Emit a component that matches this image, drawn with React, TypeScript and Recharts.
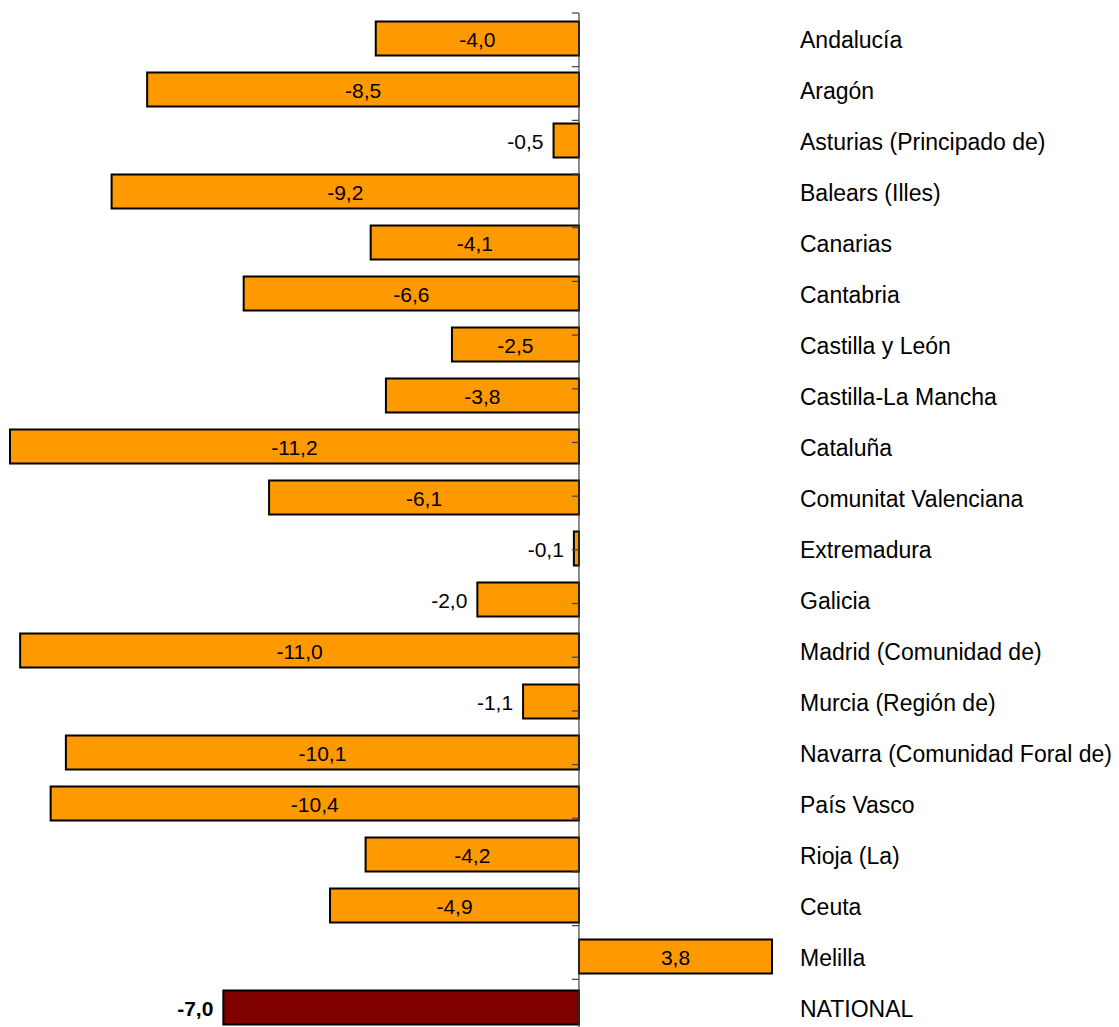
import { Bar, BarChart, Cell, LabelList, ReferenceLine, XAxis, YAxis } from 'recharts'

const regiones = [
  'Andalucía',
  'Aragón',
  'Asturias (Principado de)',
  'Balears (Illes)',
  'Canarias',
  'Cantabria',
  'Castilla y León',
  'Castilla-La Mancha',
  'Cataluña',
  'Comunitat Valenciana',
  'Extremadura',
  'Galicia',
  'Madrid (Comunidad de)',
  'Murcia (Región de)',
  'Navarra (Comunidad Foral de)',
  'País Vasco',
  'Rioja (La)',
  'Ceuta',
  'Melilla',
  'NATIONAL',
]

const variacion = [
  -4.0, -8.5, -0.5, -9.2, -4.1, -6.6, -2.5, -3.8, -11.2, -6.1, -0.1, -2.0, -11.0, -1.1, -10.1,
  -10.4, -4.2, -4.9, 3.8, -7.0,
]

// bordes entre categorías, donde van las marquitas del eje
const bordes = Array.from({ length: regiones.length + 1 }, (_, i) => i)

const data = regiones.map((region, i) => ({ region, valor: variacion[i] }))

const FONT = '"Liberation Sans", Arial, sans-serif'

const fmt = (v: number) => v.toFixed(1).replace('.', ',')

function ValorLabel(props: any) {
  const { x, y, width, height, value, index } = props
  const left = Math.min(x, x + width)
  const w = Math.abs(width)
  const cy = y + height / 2
  const nacional = regiones[index] === 'NATIONAL'
  const dentro = !nacional && Math.abs(value) >= 2.5
  return (
    <text
      x={dentro ? left + w / 2 : left - 10}
      y={cy + 1}
      textAnchor={dentro ? 'middle' : 'end'}
      dominantBaseline="central"
      fontSize={21}
      fontFamily={FONT}
      fontWeight={nacional ? 'bold' : 'normal'}
      fill="#000"
    >
      {fmt(value)}
    </text>
  )
}

function RegionTick(props: any) {
  const { x, y, payload } = props
  return (
    <text
      x={x + 28}
      y={y + 1}
      textAnchor="start"
      dominantBaseline="central"
      fontSize={23}
      fontFamily={FONT}
      fill="#000"
    >
      {payload.value}
    </text>
  )
}

export default function App() {
  return (
    <div
      style={{
        position: 'absolute',
        left: 0,
        top: 0,
        width: 1119,
        height: 1027,
        overflow: 'hidden',
        background: '#fff',
      }}
    >
      <BarChart
        width={1119}
        height={1033}
        data={data}
        layout="vertical"
        margin={{ top: 13, right: 0, bottom: 0, left: 10 }}
        barCategoryGap="16.6%"
      >
        <XAxis type="number" domain={[-11.2, 3.8]} hide />
        <YAxis
          yAxisId="cat"
          type="category"
          dataKey="region"
          orientation="right"
          width={347}
          axisLine={false}
          tickLine={false}
          tickSize={0}
          tickMargin={0}
          interval={0}
          tick={<RegionTick />}
        />
        <YAxis yAxisId="b" type="number" domain={[0, regiones.length]} reversed hide />
        <Bar
          yAxisId="cat"
          dataKey="valor"
          stroke="#000"
          strokeWidth={2}
          isAnimationActive={false}
        >
          {data.map((d) => (
            <Cell key={d.region} fill={d.region === 'NATIONAL' ? '#800000' : '#FF9900'} />
          ))}
          <LabelList dataKey="valor" content={<ValorLabel />} />
        </Bar>
        <ReferenceLine yAxisId="cat" x={0} stroke="#404040" strokeWidth={1.2} />
        {bordes.map((b) => (
          <ReferenceLine
            key={b}
            yAxisId="b"
            segment={[
              { x: -0.14, y: b },
              { x: 0, y: b },
            ]}
            stroke="#404040"
            strokeWidth={1.2}
            ifOverflow="visible"
          />
        ))}
      </BarChart>
    </div>
  )
}
